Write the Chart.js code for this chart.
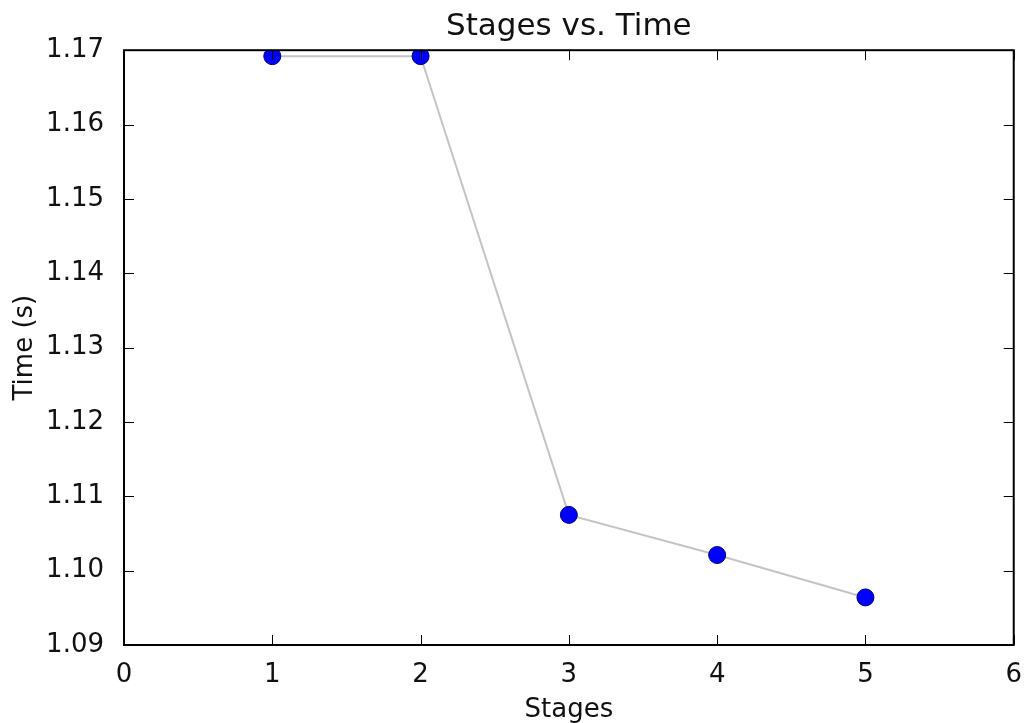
<!DOCTYPE html>
<html><head><meta charset="utf-8">
<script src="https://cdn.jsdelivr.net/npm/chart.js@4"></script>
<style>html,body{margin:0;padding:0;background:#fff}canvas{display:block}</style>
</head><body>
<canvas id="c" width="1029" height="723"></canvas>
<script>
const stages = [1, 2, 3, 4, 5];
const times = [1.1692, 1.1692, 1.1075, 1.1021, 1.0964];
const xTicks = [0, 1, 2, 3, 4, 5, 6];
const yTicks = [1.09, 1.10, 1.11, 1.12, 1.13, 1.14, 1.15, 1.16, 1.17];
const yTickLabels = ['1.09', '1.10', '1.11', '1.12', '1.13', '1.14', '1.15', '1.16', '1.17'];
const chartTitle = 'Stages vs. Time';
const xTitle = 'Stages';
const yTitle = 'Time (s)';

const FONT = 'DejaVu Sans';

const frame = {
  id: 'frame',
  afterLayout(chart) {
    if (chart.titleBlock) {
      chart.titleBlock.left = chart.chartArea.left;
      chart.titleBlock.right = chart.chartArea.right;
    }
  },
  afterDatasetsDraw(chart) {
    const {ctx, chartArea: a, scales: {x, y}} = chart;
    ctx.save();
    ctx.strokeStyle = '#000';
    ctx.lineWidth = 1;
    const L = 10;
    ctx.beginPath();
    x.ticks.forEach(t => {
      const px = Math.round(x.getPixelForValue(t.value)) + 0.5;
      ctx.moveTo(px, a.bottom); ctx.lineTo(px, a.bottom - L);
      ctx.moveTo(px, a.top); ctx.lineTo(px, a.top + L);
    });
    y.ticks.forEach(t => {
      const py = Math.round(y.getPixelForValue(t.value)) + 0.5;
      ctx.moveTo(a.left, py); ctx.lineTo(a.left + L, py);
      ctx.moveTo(a.right, py); ctx.lineTo(a.right - L, py);
    });
    ctx.stroke();
    ctx.lineWidth = 2;
    ctx.strokeRect(a.left, a.top, a.right - a.left, a.bottom - a.top);
    ctx.restore();
  }
};

new Chart(document.getElementById('c'), {
  type: 'line',
  data: {
    datasets: [{
      data: stages.map((s, i) => ({x: s, y: times[i]})),
      borderColor: '#c4c4c4',
      borderWidth: 2,
      tension: 0,
      pointRadius: 8.5,
      pointBackgroundColor: '#0000ff',
      pointBorderColor: '#00007a',
      pointBorderWidth: 1,
      clip: 0
    }]
  },
  options: {
    responsive: false,
    animation: false,
    devicePixelRatio: 1,
    layout: {padding: {left: 0, right: 12, top: 0, bottom: 0}},
    plugins: {
      legend: {display: false},
      tooltip: {enabled: false},
      title: {
        display: true,
        text: chartTitle,
        color: '#111',
        font: {family: FONT, size: 31, weight: 'normal'},
        padding: {top: 8, bottom: 5}
      }
    },
    scales: {
      x: {
        type: 'linear',
        min: 0, max: 6,
        afterBuildTicks: s => { s.ticks = xTicks.map(v => ({value: v})); },
        afterFit: s => { s.height = 78; },
        grid: {display: false},
        border: {display: false},
        ticks: {
          color: '#111',
          font: {family: FONT, size: 26},
          padding: 7,
          maxRotation: 0,
          autoSkip: false,
          callback: v => String(v)
        },
        title: {
          display: true, text: xTitle, color: '#111',
          font: {family: FONT, size: 26},
          padding: {top: 0, bottom: -3}
        }
      },
      y: {
        type: 'linear',
        min: 1.09, max: 1.17,
        afterBuildTicks: s => { s.ticks = yTicks.map(v => ({value: v})); },
        afterFit: s => { s.width = 124; },
        grid: {display: false},
        border: {display: false},
        ticks: {
          color: '#111',
          font: {family: FONT, size: 26},
          padding: 12,
          autoSkip: false,
          callback: (v) => {
            const i = yTicks.findIndex(t => Math.abs(t - v) < 1e-9);
            return i >= 0 ? yTickLabels[i] : '';
          }
        },
        title: {
          display: true, text: yTitle, color: '#111',
          font: {family: FONT, size: 26},
          padding: {top: 10, bottom: 0}
        }
      }
    }
  },
  plugins: [frame]
});
</script>
</body></html>
